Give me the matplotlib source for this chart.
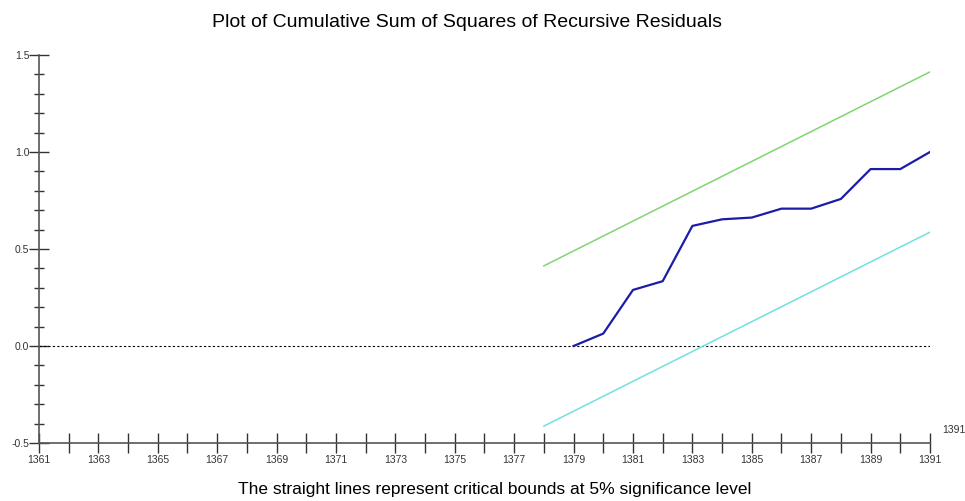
import matplotlib
matplotlib.use("Agg")
import matplotlib.pyplot as plt
from matplotlib.ticker import MultipleLocator

plt.rcParams['font.family'] = ['Liberation Sans', 'DejaVu Sans']

years = [1379, 1380, 1381, 1382, 1383, 1384, 1385, 1386, 1387, 1388, 1389, 1390, 1391]
cusumsq = [0.0, 0.064, 0.289, 0.334, 0.619, 0.653, 0.662, 0.708, 0.708, 0.758, 0.912, 0.912, 1.0]

bound_years = [1378, 1391]
upper_bound = [0.413, 1.413]
lower_bound = [-0.413, 0.587]

fig = plt.figure(figsize=(9.65, 5.01), dpi=100)
ax = fig.add_axes([0.0404, 0.1158, 0.9233, 0.7744])

ax.plot([1361, 1391], [0, 0], color="black", linestyle=(0, (2, 2)), linewidth=0.8)
ax.plot(bound_years, upper_bound, color="#80d472", linewidth=1.1)
ax.plot(bound_years, lower_bound, color="#72e0e0", linewidth=1.1)
ax.plot(years, cusumsq, color="#1c1ca8", linewidth=1.6)

ax.set_xlim(1361, 1391)
ax.set_ylim(-0.5, 1.5)
for s in ["top", "right"]:
    ax.spines[s].set_visible(False)
for s in ["left", "bottom"]:
    ax.spines[s].set_color("#555555")
    ax.spines[s].set_linewidth(1.2)

ax.xaxis.set_major_locator(MultipleLocator(2, offset=1))
ax.xaxis.set_minor_locator(MultipleLocator(1))
ax.yaxis.set_major_locator(MultipleLocator(0.5))
ax.yaxis.set_minor_locator(MultipleLocator(0.1))
ax.tick_params(axis="x", which="both", direction="inout", length=15, width=1, colors="#333333", labelsize=7.5, pad=1)
ax.tick_params(axis="y", which="major", direction="inout", length=14, width=1, colors="#333333", labelsize=7.5, pad=0)
ax.tick_params(axis="y", which="minor", direction="inout", length=7, width=1, colors="#333333")
ax.xaxis.set_major_formatter(plt.FuncFormatter(lambda v, p: f"{int(round(v))}"))
ax.yaxis.set_major_formatter(plt.FuncFormatter(lambda v, p: f"{v:.1f}"))

ax.text(1391.4, -0.46, "1391", fontsize=7.5, color="#333333", ha="left", va="bottom")

fig.text(0.484, 0.955, "Plot of Cumulative Sum of Squares of Recursive Residuals",
         ha="center", va="center", fontsize=14)
fig.text(0.513, 0.022, "The straight lines represent critical bounds at 5% significance level",
         ha="center", va="center", fontsize=12.5)

fig.savefig("out.png", dpi=100)
